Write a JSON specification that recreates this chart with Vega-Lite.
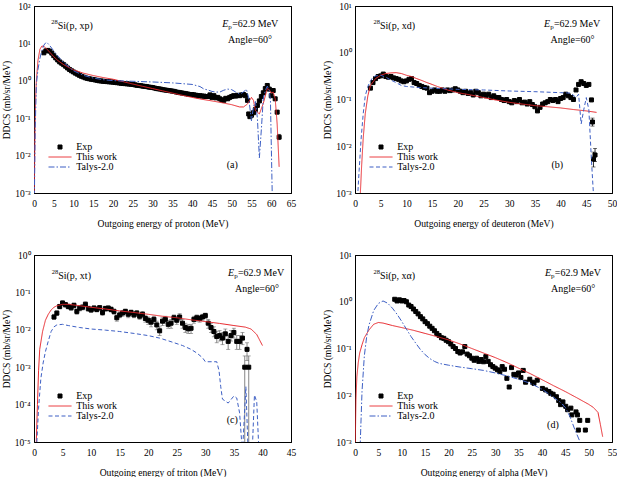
{
  "$schema": "https://vega.github.io/schema/vega-lite/v6.json",
  "background": "white",
  "padding": {"left": 0, "top": 0, "right": 2, "bottom": 1},
  "columns": 2,
  "spacing": {"row": 20, "column": 25},
  "resolve": {
    "scale": {"x": "independent", "y": "independent", "color": "independent", "shape": "independent", "strokeDash": "independent"},
    "legend": {"color": "independent", "shape": "independent", "strokeDash": "independent"}
  },
  "config": {
    "view": {"stroke": "black", "strokeWidth": 1},
    "font": "Liberation Serif",
    "axis": {
      "grid": false, "domainColor": "black", "domainWidth": 1,
      "tickColor": "black", "tickWidth": 0.8, "tickSize": 0,
      "labelFont": "Liberation Serif", "labelFontSize": 9.5, "labelColor": "black",
      "labelOverlap": false, "labelFlush": false,
      "titleFont": "Liberation Serif", "titleFontSize": 9.6, "titleFontWeight": "normal", "titleColor": "black"
    },
    "axisX": {"titlePadding": 10.5, "labelPadding": 5},
    "axisY": {"titlePadding": 3, "labelPadding": 4},
    "legend": {
      "orient": "bottom-left", "offset": 21, "padding": 0, "symbolSize": 16,
      "symbolStrokeWidth": 1, "labelOffset": 11.2, "rowPadding": 0,
      "labelFont": "Liberation Serif", "labelFontSize": 10, "labelColor": "black"
    },
    "text": {"font": "Liberation Serif", "fontSize": 10, "baseline": "middle", "color": "black"}
  },
  "datasets": {
    "a_exp": [
      {"E":2.5,"v":5.6},{"E":3.0,"v":6.3},{"E":3.5,"v":6.5},{"E":4.0,"v":6.2},{"E":4.5,"v":5.5},{"E":5.0,"v":4.7},
      {"E":5.5,"v":4.1},{"E":6.0,"v":3.6},{"E":6.5,"v":3.2},{"E":7.0,"v":2.95},{"E":7.5,"v":2.7},{"E":8.0,"v":2.45},
      {"E":8.5,"v":2.2},{"E":9.0,"v":2.0},{"E":9.5,"v":1.85},{"E":10.0,"v":1.72},{"E":10.5,"v":1.6},{"E":11.0,"v":1.5},
      {"E":11.5,"v":1.4},{"E":12.0,"v":1.32},{"E":12.5,"v":1.26},{"E":13.0,"v":1.2},{"E":13.5,"v":1.16},{"E":14.0,"v":1.13},
      {"E":14.5,"v":1.1},{"E":15.0,"v":1.08},{"E":15.5,"v":1.05},{"E":16.0,"v":1.03},{"E":16.5,"v":1.0},{"E":17.0,"v":0.99},
      {"E":17.5,"v":0.97},{"E":18.0,"v":0.96},{"E":18.5,"v":0.95},{"E":19.0,"v":0.94},{"E":19.5,"v":0.93},{"E":20.0,"v":0.92},
      {"E":20.5,"v":0.9},{"E":21.0,"v":0.89},{"E":21.5,"v":0.88},{"E":22.0,"v":0.86},{"E":22.5,"v":0.85},{"E":23.0,"v":0.84},
      {"E":23.5,"v":0.83},{"E":24.0,"v":0.82},{"E":24.5,"v":0.81},{"E":25.0,"v":0.8},{"E":25.5,"v":0.78},{"E":26.0,"v":0.76},
      {"E":26.5,"v":0.75},{"E":27.0,"v":0.74},{"E":27.5,"v":0.72},{"E":28.0,"v":0.71},{"E":28.5,"v":0.7},{"E":29.0,"v":0.68},
      {"E":29.5,"v":0.67},{"E":30.0,"v":0.66},{"E":30.5,"v":0.64},{"E":31.0,"v":0.62},{"E":31.5,"v":0.61},{"E":32.0,"v":0.6},
      {"E":32.5,"v":0.58},{"E":33.0,"v":0.57},{"E":33.5,"v":0.56},{"E":34.0,"v":0.55},{"E":34.5,"v":0.54},{"E":35.0,"v":0.53},
      {"E":35.5,"v":0.52},{"E":36.0,"v":0.5},{"E":36.5,"v":0.49},{"E":37.0,"v":0.48},{"E":37.5,"v":0.47},{"E":38.0,"v":0.46},
      {"E":38.5,"v":0.45},{"E":39.0,"v":0.44},{"E":39.5,"v":0.43},{"E":40.0,"v":0.43},{"E":40.5,"v":0.42},{"E":41.0,"v":0.41},
      {"E":41.5,"v":0.4},{"E":42.0,"v":0.4},{"E":42.5,"v":0.39},{"E":43.0,"v":0.39},{"E":43.5,"v":0.38},{"E":44.0,"v":0.38},
      {"E":44.5,"v":0.42},{"E":45.0,"v":0.36},{"E":45.5,"v":0.4},{"E":46.0,"v":0.35},{"E":46.5,"v":0.36},{"E":47.0,"v":0.33},
      {"E":47.5,"v":0.31},{"E":48.0,"v":0.3},{"E":48.5,"v":0.34},{"E":49.0,"v":0.33},{"E":49.5,"v":0.36},{"E":50.0,"v":0.38},
      {"E":50.5,"v":0.4},{"E":51.0,"v":0.39},{"E":51.5,"v":0.41},{"E":52.0,"v":0.4},{"E":52.5,"v":0.42},{"E":53.0,"v":0.43},
      {"E":53.5,"v":0.4},{"E":54.0,"v":0.3},{"E":54.3,"v":0.13},{"E":54.6,"v":0.11},{"E":55.0,"v":0.12},{"E":55.5,"v":0.14},
      {"E":56.0,"v":0.17},{"E":56.5,"v":0.22},{"E":57.0,"v":0.29},{"E":57.5,"v":0.38},{"E":58.0,"v":0.48},{"E":58.5,"v":0.62},
      {"E":59.0,"v":0.75},{"E":59.5,"v":0.6},{"E":60.0,"v":0.4},{"E":60.5,"v":0.55},{"E":61.0,"v":0.33},{"E":61.5,"v":0.145},
      {"E":62.0,"v":0.031}
    ],
    "a_err": [
      {"E":61.5,"lo":0.13,"hi":0.16},{"E":62.0,"lo":0.026,"hi":0.037}
    ],
    "a_red": [
      {"E":0.05,"v":0.0005},{"E":0.2,"v":0.02},{"E":0.4,"v":0.3},{"E":0.6,"v":1.0},{"E":1.0,"v":3.5},{"E":1.5,"v":7.0},
      {"E":2.0,"v":8.5},{"E":2.5,"v":8.3},{"E":3.0,"v":7.5},{"E":4.0,"v":5.8},{"E":5.0,"v":4.4},{"E":6.0,"v":3.5},
      {"E":7.5,"v":2.7},{"E":10,"v":1.95},{"E":12.5,"v":1.6},{"E":15,"v":1.38},{"E":17.5,"v":1.22},{"E":20,"v":1.1},
      {"E":22.5,"v":0.95},{"E":25,"v":0.82},{"E":27.5,"v":0.71},{"E":30,"v":0.62},{"E":32.5,"v":0.54},{"E":35,"v":0.47},
      {"E":37.5,"v":0.41},{"E":40,"v":0.36},{"E":42.5,"v":0.32},{"E":45,"v":0.29},{"E":47.5,"v":0.26},{"E":50,"v":0.23},
      {"E":52,"v":0.2},{"E":53,"v":0.2},{"E":54,"v":0.24},{"E":55,"v":0.36},{"E":55.5,"v":0.3},{"E":56,"v":0.16},
      {"E":57,"v":0.13},{"E":58,"v":0.25},{"E":59,"v":0.62},{"E":59.5,"v":0.58},{"E":60,"v":0.47},{"E":60.5,"v":0.5},
      {"E":61,"v":0.33},{"E":61.5,"v":0.07},{"E":62,"v":0.005}
    ],
    "a_talys": [
      {"E":0.1,"v":0.0008},{"E":0.3,"v":0.05},{"E":0.6,"v":0.8},{"E":1.0,"v":2.0},{"E":1.5,"v":4.0},{"E":2.0,"v":6.5},
      {"E":2.5,"v":9.0},{"E":3.0,"v":10.5},{"E":3.5,"v":10.0},{"E":4.0,"v":8.7},{"E":5.0,"v":6.3},{"E":6.0,"v":4.6},
      {"E":7.5,"v":3.1},{"E":10,"v":1.85},{"E":12.5,"v":1.4},{"E":15,"v":1.18},{"E":17.5,"v":1.07},{"E":20,"v":1.01},
      {"E":25,"v":0.97},{"E":30,"v":0.93},{"E":35,"v":0.88},{"E":40,"v":0.8},{"E":42,"v":0.7},{"E":43,"v":0.6},
      {"E":44,"v":0.57},{"E":45,"v":0.52},{"E":46,"v":0.5},{"E":47,"v":0.5},{"E":48,"v":0.56},{"E":49,"v":0.6},
      {"E":50,"v":0.58},{"E":51,"v":0.5},{"E":52,"v":0.44},{"E":53,"v":0.5},{"E":53.7,"v":0.6},{"E":54.3,"v":0.35},
      {"E":55,"v":0.085},{"E":55.5,"v":0.2},{"E":56,"v":0.28},{"E":56.5,"v":0.1},{"E":57,"v":0.0087},{"E":57.5,"v":0.05},
      {"E":58,"v":0.35},{"E":58.5,"v":0.55},{"E":59,"v":0.72},{"E":59.5,"v":0.55},{"E":59.8,"v":0.3},{"E":60.3,"v":0.0005}
    ],
    "a_notes": [
      {"part":"iso","E":4.36,"v":29.1,"text":"28"},
      {"part":"reac","E":4.36,"v":29.1,"text":"Si(p, xp)"},
      {"part":"E","E":61.8,"v":32.3,"text":"E"},
      {"part":"sub","E":61.8,"v":32.3,"text":"p"},
      {"part":"right","E":61.8,"v":32.3,"text":"=62.9 MeV"},
      {"part":"right","E":60.2,"v":12.0,"text":"Angle=60°"},
      {"part":"right","E":51.56,"v":0.0055,"text":"(a)"}
    ],
    "b_exp": [
      {"E":3.0,"v":0.175},{"E":3.5,"v":0.23},{"E":4.0,"v":0.28},{"E":4.5,"v":0.31},{"E":5.0,"v":0.32},{"E":5.5,"v":0.35},
      {"E":6.0,"v":0.31},{"E":6.5,"v":0.3},{"E":7.0,"v":0.31},{"E":7.5,"v":0.29},{"E":8.0,"v":0.28},{"E":8.5,"v":0.27},
      {"E":9.0,"v":0.25},{"E":9.5,"v":0.24},{"E":10.0,"v":0.25},{"E":10.5,"v":0.27},{"E":11.0,"v":0.28},{"E":11.5,"v":0.23},
      {"E":12.0,"v":0.22},{"E":12.5,"v":0.2},{"E":13.0,"v":0.19},{"E":13.5,"v":0.18},{"E":14.0,"v":0.175},{"E":14.5,"v":0.14},
      {"E":15.0,"v":0.15},{"E":15.5,"v":0.16},{"E":16.0,"v":0.15},{"E":16.5,"v":0.15},{"E":17.0,"v":0.16},{"E":17.5,"v":0.15},
      {"E":18.0,"v":0.16},{"E":18.5,"v":0.155},{"E":19.0,"v":0.16},{"E":19.5,"v":0.17},{"E":20.0,"v":0.16},{"E":20.5,"v":0.15},
      {"E":21.0,"v":0.14},{"E":21.5,"v":0.15},{"E":22.0,"v":0.135},{"E":22.5,"v":0.14},{"E":23.0,"v":0.125},{"E":23.5,"v":0.15},
      {"E":24.0,"v":0.14},{"E":24.5,"v":0.12},{"E":25.0,"v":0.13},{"E":25.5,"v":0.12},{"E":26.0,"v":0.13},{"E":26.5,"v":0.11},
      {"E":27.0,"v":0.12},{"E":27.5,"v":0.11},{"E":28.0,"v":0.11},{"E":28.5,"v":0.1},{"E":29.0,"v":0.095},{"E":29.5,"v":0.1},
      {"E":30.0,"v":0.09},{"E":30.5,"v":0.085},{"E":31.0,"v":0.095},{"E":31.5,"v":0.09},{"E":32.0,"v":0.1},{"E":32.5,"v":0.085},
      {"E":33.0,"v":0.088},{"E":33.5,"v":0.08},{"E":34.0,"v":0.09},{"E":34.5,"v":0.078},{"E":35.0,"v":0.07},{"E":35.5,"v":0.057},
      {"E":36.0,"v":0.068},{"E":36.5,"v":0.08},{"E":37.0,"v":0.085},{"E":37.5,"v":0.09},{"E":38.0,"v":0.1},{"E":38.5,"v":0.095},
      {"E":39.0,"v":0.1},{"E":39.5,"v":0.09},{"E":40.0,"v":0.105},{"E":40.5,"v":0.11},{"E":41.0,"v":0.13},{"E":41.5,"v":0.12},
      {"E":42.0,"v":0.11},{"E":42.5,"v":0.1},{"E":43.0,"v":0.16},{"E":43.5,"v":0.21},{"E":44.0,"v":0.24},{"E":44.5,"v":0.22},
      {"E":45.0,"v":0.2},{"E":45.5,"v":0.21},{"E":46.0,"v":0.098},{"E":46.2,"v":0.033},{"E":46.4,"v":0.0053},{"E":46.7,"v":0.0065}
    ],
    "b_err": [
      {"E":46.2,"lo":0.027,"hi":0.04},{"E":46.4,"lo":0.0036,"hi":0.0075},{"E":46.7,"lo":0.0047,"hi":0.009}
    ],
    "b_red": [
      {"E":1.0,"v":0.0008},{"E":1.3,"v":0.004},{"E":1.6,"v":0.015},{"E":2.0,"v":0.05},{"E":2.5,"v":0.12},{"E":3.0,"v":0.2},
      {"E":4.0,"v":0.28},{"E":5.0,"v":0.33},{"E":6.0,"v":0.36},{"E":7.0,"v":0.37},{"E":8.0,"v":0.375},{"E":9.0,"v":0.36},
      {"E":10.0,"v":0.33},{"E":11.0,"v":0.31},{"E":12.0,"v":0.28},{"E":13.0,"v":0.255},{"E":14.0,"v":0.23},{"E":15.0,"v":0.21},
      {"E":16.0,"v":0.19},{"E":17.0,"v":0.175},{"E":18.0,"v":0.16},{"E":19.0,"v":0.15},{"E":20.0,"v":0.14},{"E":22.5,"v":0.125},
      {"E":25.0,"v":0.11},{"E":27.5,"v":0.097},{"E":30.0,"v":0.087},{"E":32.5,"v":0.08},{"E":35.0,"v":0.074},{"E":37.5,"v":0.07},
      {"E":40.0,"v":0.066},{"E":42.5,"v":0.061},{"E":45.0,"v":0.057},{"E":47.0,"v":0.053}
    ],
    "b_talys": [
      {"E":0.5,"v":0.0008},{"E":0.8,"v":0.003},{"E":1.2,"v":0.015},{"E":1.6,"v":0.05},{"E":2.0,"v":0.12},{"E":2.5,"v":0.19},
      {"E":3.0,"v":0.25},{"E":3.5,"v":0.3},{"E":4.0,"v":0.32},{"E":5.0,"v":0.33},{"E":6.0,"v":0.3},{"E":7.0,"v":0.26},
      {"E":8.0,"v":0.23},{"E":9.0,"v":0.2},{"E":10.0,"v":0.19},{"E":12.5,"v":0.18},{"E":15.0,"v":0.175},{"E":20.0,"v":0.165},
      {"E":25.0,"v":0.16},{"E":30.0,"v":0.152},{"E":35.0,"v":0.147},{"E":40.0,"v":0.14},{"E":42.0,"v":0.137},{"E":43.0,"v":0.11},
      {"E":43.5,"v":0.13},{"E":44.0,"v":0.03},{"E":44.5,"v":0.06},{"E":45.0,"v":0.11},{"E":45.5,"v":0.06},{"E":46.0,"v":0.005},
      {"E":46.5,"v":0.0006}
    ],
    "b_notes": [
      {"part":"iso","E":3.6,"v":3.74,"text":"28"},
      {"part":"reac","E":3.6,"v":3.74,"text":"Si(p, xd)"},
      {"part":"E","E":47.7,"v":4.07,"text":"E"},
      {"part":"sub","E":47.7,"v":4.07,"text":"p"},
      {"part":"right","E":47.7,"v":4.07,"text":"=62.9 MeV"},
      {"part":"right","E":46.6,"v":1.85,"text":"Angle=60°"},
      {"part":"right","E":40.5,"v":0.00403,"text":"(b)"}
    ],
    "c_exp": [
      {"E":3.5,"v":0.022,"lo":0.019,"hi":0.026},{"E":4.0,"v":0.028,"lo":0.024,"hi":0.032},{"E":4.5,"v":0.042,"lo":0.036,"hi":0.048},
      {"E":5.0,"v":0.052,"lo":0.045,"hi":0.06},{"E":5.5,"v":0.047,"lo":0.04,"hi":0.054},{"E":6.0,"v":0.042,"lo":0.036,"hi":0.049},
      {"E":6.5,"v":0.039,"lo":0.033,"hi":0.046},{"E":7.0,"v":0.045,"lo":0.038,"hi":0.052},{"E":7.5,"v":0.031,"lo":0.026,"hi":0.036},
      {"E":8.0,"v":0.038,"lo":0.032,"hi":0.044},{"E":8.5,"v":0.04,"lo":0.034,"hi":0.047},{"E":9.0,"v":0.048,"lo":0.041,"hi":0.056},
      {"E":9.5,"v":0.037,"lo":0.031,"hi":0.043},{"E":10.0,"v":0.034,"lo":0.029,"hi":0.04},{"E":10.5,"v":0.038,"lo":0.032,"hi":0.044},
      {"E":11.0,"v":0.035,"lo":0.03,"hi":0.041},{"E":11.5,"v":0.039,"lo":0.033,"hi":0.045},{"E":12.0,"v":0.029,"lo":0.024,"hi":0.034},
      {"E":12.5,"v":0.037,"lo":0.031,"hi":0.043},{"E":13.0,"v":0.038,"lo":0.032,"hi":0.044},{"E":13.5,"v":0.035,"lo":0.03,"hi":0.041},
      {"E":14.0,"v":0.031,"lo":0.026,"hi":0.036},{"E":14.5,"v":0.021,"lo":0.017,"hi":0.025},{"E":15.0,"v":0.025,"lo":0.021,"hi":0.03},
      {"E":15.5,"v":0.028,"lo":0.023,"hi":0.033},{"E":16.0,"v":0.031,"lo":0.026,"hi":0.036},{"E":16.5,"v":0.026,"lo":0.021,"hi":0.031},
      {"E":17.0,"v":0.029,"lo":0.024,"hi":0.034},{"E":17.5,"v":0.025,"lo":0.021,"hi":0.03},{"E":18.0,"v":0.028,"lo":0.023,"hi":0.033},
      {"E":18.5,"v":0.023,"lo":0.019,"hi":0.028},{"E":19.0,"v":0.026,"lo":0.021,"hi":0.031},{"E":19.5,"v":0.02,"lo":0.016,"hi":0.024},
      {"E":20.0,"v":0.018,"lo":0.014,"hi":0.022},{"E":20.5,"v":0.016,"lo":0.012,"hi":0.02},{"E":21.0,"v":0.019,"lo":0.015,"hi":0.023},
      {"E":21.5,"v":0.0135,"lo":0.01,"hi":0.017},{"E":22.0,"v":0.0094,"lo":0.007,"hi":0.012},{"E":22.5,"v":0.017,"lo":0.013,"hi":0.021},
      {"E":23.0,"v":0.019,"lo":0.015,"hi":0.023},{"E":23.5,"v":0.014,"lo":0.011,"hi":0.018},{"E":24.0,"v":0.015,"lo":0.011,"hi":0.019},
      {"E":24.5,"v":0.021,"lo":0.017,"hi":0.025},{"E":25.0,"v":0.018,"lo":0.014,"hi":0.022},{"E":25.5,"v":0.022,"lo":0.018,"hi":0.027},
      {"E":26.0,"v":0.015,"lo":0.011,"hi":0.019},{"E":26.5,"v":0.0115,"lo":0.0085,"hi":0.015},{"E":27.0,"v":0.0106,"lo":0.008,"hi":0.014},
      {"E":27.5,"v":0.011,"lo":0.008,"hi":0.014},{"E":28.0,"v":0.019,"lo":0.015,"hi":0.023},{"E":28.5,"v":0.021,"lo":0.017,"hi":0.025},
      {"E":29.0,"v":0.02,"lo":0.016,"hi":0.024},{"E":29.5,"v":0.022,"lo":0.018,"hi":0.026},{"E":30.0,"v":0.024,"lo":0.02,"hi":0.028},
      {"E":30.5,"v":0.015,"lo":0.011,"hi":0.019},{"E":31.0,"v":0.0115,"lo":0.0085,"hi":0.015},{"E":31.5,"v":0.009,"lo":0.0065,"hi":0.012},
      {"E":32.0,"v":0.0066,"lo":0.0045,"hi":0.009},{"E":32.5,"v":0.007,"lo":0.005,"hi":0.0095},{"E":33.0,"v":0.006,"lo":0.004,"hi":0.0085},
      {"E":33.5,"v":0.0078,"lo":0.0055,"hi":0.0105},{"E":34.0,"v":0.0049,"lo":0.003,"hi":0.007},{"E":34.5,"v":0.007,"lo":0.005,"hi":0.0095},
      {"E":35.0,"v":0.0085,"lo":0.006,"hi":0.011},{"E":35.5,"v":0.0049,"lo":0.003,"hi":0.007},{"E":36.0,"v":0.0049,"lo":0.003,"hi":0.007},
      {"E":36.5,"v":0.006,"lo":0.004,"hi":0.0085},{"E":36.9,"v":0.001,"lo":0.000001,"hi":0.002},{"E":37.3,"v":0.003,"lo":0.0015,"hi":0.0045},
      {"E":37.6,"v":0.001,"lo":0.000001,"hi":0.002}
    ],
    "c_red": [
      {"E":0.4,"v":0.00001},{"E":0.6,"v":0.0001},{"E":0.8,"v":0.0008},{"E":1.0,"v":0.003},{"E":1.5,"v":0.009},{"E":2.0,"v":0.018},
      {"E":2.5,"v":0.026},{"E":3.0,"v":0.034},{"E":3.5,"v":0.04},{"E":4.0,"v":0.044},{"E":5.0,"v":0.048},{"E":6.0,"v":0.048},
      {"E":8.0,"v":0.044},{"E":10.0,"v":0.04},{"E":12.5,"v":0.036},{"E":15.0,"v":0.032},{"E":17.5,"v":0.029},{"E":20.0,"v":0.026},
      {"E":22.5,"v":0.023},{"E":25.0,"v":0.021},{"E":27.5,"v":0.0185},{"E":30.0,"v":0.0166},{"E":32.5,"v":0.0148},{"E":35.0,"v":0.013},
      {"E":37.0,"v":0.0118},{"E":38.0,"v":0.0105},{"E":39.0,"v":0.0075},{"E":40.0,"v":0.0038}
    ],
    "c_talys": [
      {"E":0.5,"v":0.00001},{"E":0.8,"v":0.00008},{"E":1.2,"v":0.0005},{"E":1.6,"v":0.0013},{"E":2.0,"v":0.0026},{"E":2.5,"v":0.005},
      {"E":3.0,"v":0.009},{"E":3.5,"v":0.012},{"E":4.0,"v":0.0135},{"E":5.0,"v":0.014},{"E":6.0,"v":0.013},{"E":8.0,"v":0.0115},
      {"E":10.0,"v":0.0105},{"E":12.5,"v":0.0098},{"E":15.0,"v":0.009},{"E":17.5,"v":0.008},{"E":20.0,"v":0.007},{"E":22.0,"v":0.006},
      {"E":24.0,"v":0.0048},{"E":26.0,"v":0.0038},{"E":27.5,"v":0.003},{"E":28.5,"v":0.0024},{"E":29.5,"v":0.0018},{"E":30.0,"v":0.0014},
      {"E":31.0,"v":0.0014},{"E":32.0,"v":0.0014},{"E":32.4,"v":0.0008},{"E":32.7,"v":0.0003},{"E":33.0,"v":0.00014},{"E":34.0,"v":0.00011},
      {"E":35.0,"v":0.00017},{"E":35.5,"v":0.00015},{"E":36.0,"v":0.00006},{"E":36.5,"v":0.000005},{"E":37.1,"v":0.0003},{"E":37.5,"v":0.000005},
      {"E":38.2,"v":0.000005},{"E":38.6,"v":0.00018},{"E":39.0,"v":0.00012},{"E":39.4,"v":0.000005}
    ],
    "c_notes": [
      {"part":"iso","E":3.1,"v":0.281,"text":"28"},
      {"part":"reac","E":3.1,"v":0.281,"text":"Si(p, xt)"},
      {"part":"E","E":43.8,"v":0.324,"text":"E"},
      {"part":"sub","E":43.8,"v":0.324,"text":"p"},
      {"part":"right","E":43.8,"v":0.324,"text":"=62.9 MeV"},
      {"part":"right","E":42.9,"v":0.124,"text":"Angle=60°"},
      {"part":"right","E":35.7,"v":0.0000394,"text":"(c)"}
    ],
    "d_exp": [
      {"E":8.5,"v":1.13},{"E":9.0,"v":1.04},{"E":9.5,"v":1.1},{"E":10.0,"v":1.04},{"E":10.5,"v":1.06},{"E":11.0,"v":1.0},
      {"E":11.5,"v":0.85},{"E":12.0,"v":0.79},{"E":12.5,"v":0.7},{"E":13.0,"v":0.62},{"E":13.5,"v":0.55},{"E":14.0,"v":0.48},
      {"E":14.5,"v":0.43},{"E":15.0,"v":0.375},{"E":15.5,"v":0.34},{"E":16.0,"v":0.3},{"E":16.5,"v":0.27},{"E":17.0,"v":0.24},
      {"E":17.5,"v":0.21},{"E":18.0,"v":0.19},{"E":18.5,"v":0.17},{"E":19.0,"v":0.165},{"E":19.5,"v":0.15},{"E":20.0,"v":0.14},
      {"E":20.5,"v":0.125},{"E":21.0,"v":0.11},{"E":21.5,"v":0.1},{"E":22.0,"v":0.086},{"E":22.5,"v":0.08},{"E":23.0,"v":0.085},
      {"E":23.5,"v":0.11},{"E":24.0,"v":0.076},{"E":24.5,"v":0.07},{"E":25.0,"v":0.062},{"E":25.5,"v":0.056},{"E":26.0,"v":0.062},
      {"E":26.5,"v":0.053},{"E":27.0,"v":0.058},{"E":27.5,"v":0.052},{"E":28.0,"v":0.067},{"E":28.5,"v":0.053},{"E":29.0,"v":0.045},
      {"E":29.5,"v":0.041},{"E":30.0,"v":0.038},{"E":30.5,"v":0.035},{"E":31.0,"v":0.032},{"E":31.5,"v":0.041},{"E":32.0,"v":0.036},
      {"E":32.5,"v":0.023},{"E":33.0,"v":0.015},{"E":33.5,"v":0.039},{"E":34.0,"v":0.028},{"E":34.5,"v":0.027},{"E":35.0,"v":0.03},
      {"E":35.5,"v":0.024},{"E":36.0,"v":0.034},{"E":36.5,"v":0.019},{"E":37.4,"v":0.022},{"E":38.0,"v":0.019},{"E":38.3,"v":0.018},
      {"E":39.0,"v":0.021},{"E":40.1,"v":0.014},{"E":40.8,"v":0.013},{"E":41.5,"v":0.012},{"E":41.9,"v":0.011},{"E":42.4,"v":0.0105},
      {"E":43.1,"v":0.0093},{"E":43.6,"v":0.0077},{"E":44.0,"v":0.0063},{"E":44.5,"v":0.0072},{"E":45.1,"v":0.0058},{"E":45.5,"v":0.0049},
      {"E":46.2,"v":0.0053},{"E":46.4,"v":0.0038},{"E":47.3,"v":0.0044},{"E":47.6,"v":0.0038},{"E":47.8,"v":0.0018},{"E":48.1,"v":0.0029},
      {"E":49.3,"v":0.0018},{"E":49.8,"v":0.0029}
    ],
    "d_red": [
      {"E":0.05,"v":0.0008},{"E":0.2,"v":0.008},{"E":0.4,"v":0.025},{"E":0.7,"v":0.05},{"E":1.0,"v":0.08},{"E":1.5,"v":0.12},
      {"E":2.0,"v":0.17},{"E":3.0,"v":0.25},{"E":4.0,"v":0.33},{"E":5.0,"v":0.36},{"E":6.0,"v":0.35},{"E":8.0,"v":0.31},
      {"E":10.0,"v":0.28},{"E":12.5,"v":0.245},{"E":15.0,"v":0.21},{"E":17.5,"v":0.18},{"E":20.0,"v":0.153},{"E":22.5,"v":0.125},
      {"E":25.0,"v":0.1},{"E":27.5,"v":0.08},{"E":30.0,"v":0.064},{"E":32.5,"v":0.05},{"E":35.0,"v":0.038},{"E":37.5,"v":0.029},
      {"E":40.0,"v":0.0216},{"E":42.5,"v":0.016},{"E":45.0,"v":0.012},{"E":47.5,"v":0.0088},{"E":50.0,"v":0.0064},{"E":51.0,"v":0.0055},
      {"E":52.0,"v":0.0043},{"E":52.5,"v":0.0024},{"E":53.0,"v":0.0013}
    ],
    "d_talys": [
      {"E":1.1,"v":0.0008},{"E":1.5,"v":0.012},{"E":2.0,"v":0.07},{"E":2.5,"v":0.18},{"E":3.0,"v":0.32},{"E":4.0,"v":0.65},
      {"E":5.0,"v":0.92},{"E":6.0,"v":1.04},{"E":7.0,"v":0.93},{"E":8.0,"v":0.73},{"E":9.0,"v":0.54},{"E":10.0,"v":0.38},
      {"E":11.0,"v":0.26},{"E":12.0,"v":0.18},{"E":13.0,"v":0.13},{"E":14.0,"v":0.095},{"E":15.0,"v":0.074},{"E":16.0,"v":0.061},
      {"E":17.0,"v":0.053},{"E":18.0,"v":0.048},{"E":20.0,"v":0.044},{"E":22.5,"v":0.04},{"E":25.0,"v":0.037},{"E":27.5,"v":0.034},
      {"E":30.0,"v":0.03},{"E":32.5,"v":0.026},{"E":35.0,"v":0.022},{"E":37.5,"v":0.018},{"E":40.0,"v":0.0135},{"E":42.0,"v":0.0098},
      {"E":44.0,"v":0.007},{"E":45.0,"v":0.0055},{"E":46.0,"v":0.0035},{"E":47.0,"v":0.0019},{"E":48.0,"v":0.0011},{"E":48.5,"v":0.0008}
    ],
    "d_notes": [
      {"part":"iso","E":3.94,"v":3.62,"text":"28"},
      {"part":"reac","E":3.94,"v":3.62,"text":"Si(p, xα)"},
      {"part":"E","E":52.65,"v":4.07,"text":"E"},
      {"part":"sub","E":52.65,"v":4.07,"text":"p"},
      {"part":"right","E":52.65,"v":4.07,"text":"=62.9 MeV"},
      {"part":"right","E":51.4,"v":1.88,"text":"Angle=60°"},
      {"part":"right","E":43.6,"v":0.00234,"text":"(d)"}
    ]
  },
  "concat": [
    {
      "width": 257, "height": 187,
      "resolve": {"axis": {"x": "independent", "y": "independent"}},
      "encoding": {
        "x": {"field": "E", "type": "quantitative", "scale": {"domain": [0, 65]}, "axis": null},
        "y": {"field": "v", "type": "quantitative", "scale": {"type": "log", "domain": [0.001, 100]}, "axis": null}
      },
      "layer": [
        {
          "data": {"name": "a_err"},
          "mark": {"type": "rule", "color": "black", "strokeWidth": 0.8, "clip": true},
          "encoding": {"y": {"field": "lo", "type": "quantitative", "axis": null}, "y2": {"field": "hi"}}
        },
        {
          "data": {"name": "a_err"},
          "mark": {"type": "tick", "orient": "horizontal", "color": "black", "size": 4, "thickness": 0.8, "clip": true},
          "encoding": {"y": {"field": "hi", "type": "quantitative", "axis": null}}
        },
        {
          "data": {"name": "a_exp"},
          "mark": {"type": "point", "filled": false, "fill": "black", "strokeWidth": 1, "size": 16, "opacity": 1, "clip": true},
          "encoding": {
            "x": {"field": "E", "type": "quantitative", "scale": {"domain": [0, 65]},
              "axis": {"orient": "bottom", "title": "Outgoing energy of proton (MeV)",
                "values": [0,2.5,5,7.5,10,12.5,15,17.5,20,22.5,25,27.5,30,32.5,35,37.5,40,42.5,45,47.5,50,52.5,55,57.5,60,62.5,65],
                "labelExpr": "datum.value % 5 == 0 ? toString(datum.value) : ''",
                "encode": {"ticks": {"y2": {"condition": {"test": "datum.value % 5 == 0", "value": -4.5}, "value": -3}}}}},
            "y": {"field": "v", "type": "quantitative", "scale": {"type": "log", "domain": [0.001, 100]},
              "axis": {"orient": "left", "title": "DDCS (mb/sr/MeV)",
                "values": [0.001,0.002,0.003,0.004,0.005,0.006,0.007,0.008,0.009,0.01,0.02,0.03,0.04,0.05,0.06,0.07,0.08,0.09,0.1,0.2,0.3,0.4,0.5,0.6,0.7,0.8,0.9,1,2,3,4,5,6,7,8,9,10,20,30,40,50,60,70,80,90,100],
                "labelExpr": "abs(log(datum.value)/LN10 - round(log(datum.value)/LN10)) < 0.001 ? '10' + replace(replace(replace(replace(replace(replace(replace(toString(round(log(datum.value)/LN10)), '-', '⁻'), '0', '⁰'), '1', '¹'), '2', '²'), '3', '³'), '4', '⁴'), '5', '⁵') : ''",
                "encode": {"ticks": {"x2": {"condition": {"test": "abs(log(datum.value)/LN10 - round(log(datum.value)/LN10)) < 0.001", "value": 5}, "value": 2.5}}}}},
            "color": {"datum": "Exp", "type": "nominal",
              "scale": {"domain": ["Exp", "This work", "Talys-2.0"], "range": ["black", "#e8262b", "#3d5fc4"]},
              "legend": {"title": null}},
            "shape": {"datum": "Exp", "type": "nominal",
              "scale": {"domain": ["Exp", "This work", "Talys-2.0"], "range": ["M-1,-1H1V1H-1Z", "M-5.75,0H5.75", "M-5.75,0H5.75"]},
              "legend": {"title": null}}
          }
        },
        {
          "data": {"name": "a_red"},
          "mark": {"type": "line", "strokeWidth": 1, "clip": true},
          "encoding": {
            "x": {"field": "E", "type": "quantitative", "scale": {"domain": [0, 65]},
              "axis": {"orient": "top", "labels": false, "title": null,
                "values": [0,2.5,5,7.5,10,12.5,15,17.5,20,22.5,25,27.5,30,32.5,35,37.5,40,42.5,45,47.5,50,52.5,55,57.5,60,62.5,65],
                "encode": {"ticks": {"y2": {"condition": {"test": "datum.value % 5 == 0", "value": 4.5}, "value": 3}}}}},
            "y": {"field": "v", "type": "quantitative", "scale": {"type": "log", "domain": [0.001, 100]},
              "axis": {"orient": "right", "labels": false, "title": null,
                "values": [0.001,0.002,0.003,0.004,0.005,0.006,0.007,0.008,0.009,0.01,0.02,0.03,0.04,0.05,0.06,0.07,0.08,0.09,0.1,0.2,0.3,0.4,0.5,0.6,0.7,0.8,0.9,1,2,3,4,5,6,7,8,9,10,20,30,40,50,60,70,80,90,100],
                "encode": {"ticks": {"x2": {"condition": {"test": "abs(log(datum.value)/LN10 - round(log(datum.value)/LN10)) < 0.001", "value": -5}, "value": -2.5}}}}},
            "color": {"datum": "This work", "type": "nominal"},
            "strokeDash": {"datum": "This work", "type": "nominal",
              "scale": {"domain": ["Exp", "This work", "Talys-2.0"], "range": [[1, 0], [1, 0], [6, 2, 1.5, 2]]},
              "legend": {"title": null}}
          }
        },
        {
          "data": {"name": "a_talys"},
          "mark": {"type": "line", "strokeWidth": 1, "clip": true},
          "encoding": {"color": {"datum": "Talys-2.0", "type": "nominal"}, "strokeDash": {"datum": "Talys-2.0", "type": "nominal"}}
        },
        {
          "data": {"name": "a_notes"}, "transform": [{"filter": "datum.part == 'iso'"}],
          "mark": {"type": "text", "align": "left", "fontSize": 6.5, "dy": -4},
          "encoding": {"text": {"field": "text"}}
        },
        {
          "data": {"name": "a_notes"}, "transform": [{"filter": "datum.part == 'reac'"}],
          "mark": {"type": "text", "align": "left", "dx": 6.5},
          "encoding": {"text": {"field": "text"}}
        },
        {
          "data": {"name": "a_notes"}, "transform": [{"filter": "datum.part == 'E'"}],
          "mark": {"type": "text", "align": "right", "fontStyle": "italic", "dx": -50},
          "encoding": {"text": {"field": "text"}}
        },
        {
          "data": {"name": "a_notes"}, "transform": [{"filter": "datum.part == 'sub'"}],
          "mark": {"type": "text", "align": "right", "fontSize": 7, "dx": -46.5, "dy": 3},
          "encoding": {"text": {"field": "text"}}
        },
        {
          "data": {"name": "a_notes"}, "transform": [{"filter": "datum.part == 'right'"}],
          "mark": {"type": "text", "align": "right"},
          "encoding": {"text": {"field": "text"}}
        }
      ]
    },
    {
      "width": 257, "height": 187,
      "resolve": {"axis": {"x": "independent", "y": "independent"}},
      "encoding": {
        "x": {"field": "E", "type": "quantitative", "scale": {"domain": [0, 50]}, "axis": null},
        "y": {"field": "v", "type": "quantitative", "scale": {"type": "log", "domain": [0.001, 10]}, "axis": null}
      },
      "layer": [
        {
          "data": {"name": "b_err"},
          "mark": {"type": "rule", "color": "black", "strokeWidth": 0.8, "clip": true},
          "encoding": {"y": {"field": "lo", "type": "quantitative", "axis": null}, "y2": {"field": "hi"}}
        },
        {
          "data": {"name": "b_err"},
          "mark": {"type": "tick", "orient": "horizontal", "color": "black", "size": 4, "thickness": 0.8, "clip": true},
          "encoding": {"y": {"field": "hi", "type": "quantitative", "axis": null}}
        },
        {
          "data": {"name": "b_err"},
          "mark": {"type": "tick", "orient": "horizontal", "color": "black", "size": 4, "thickness": 0.8, "clip": true},
          "encoding": {"y": {"field": "lo", "type": "quantitative", "axis": null}}
        },
        {
          "data": {"name": "b_exp"},
          "mark": {"type": "point", "filled": false, "fill": "black", "strokeWidth": 1, "size": 16, "opacity": 1, "clip": true},
          "encoding": {
            "x": {"field": "E", "type": "quantitative", "scale": {"domain": [0, 50]},
              "axis": {"orient": "bottom", "title": "Outgoing energy of deuteron (MeV)",
                "values": [0,2.5,5,7.5,10,12.5,15,17.5,20,22.5,25,27.5,30,32.5,35,37.5,40,42.5,45,47.5,50],
                "labelExpr": "datum.value % 5 == 0 ? toString(datum.value) : ''",
                "encode": {"ticks": {"y2": {"condition": {"test": "datum.value % 5 == 0", "value": -4.5}, "value": -3}}}}},
            "y": {"field": "v", "type": "quantitative", "scale": {"type": "log", "domain": [0.001, 10]},
              "axis": {"orient": "left", "title": "DDCS (mb/sr/MeV)",
                "values": [0.001,0.002,0.003,0.004,0.005,0.006,0.007,0.008,0.009,0.01,0.02,0.03,0.04,0.05,0.06,0.07,0.08,0.09,0.1,0.2,0.3,0.4,0.5,0.6,0.7,0.8,0.9,1,2,3,4,5,6,7,8,9,10],
                "labelExpr": "abs(log(datum.value)/LN10 - round(log(datum.value)/LN10)) < 0.001 ? '10' + replace(replace(replace(replace(replace(replace(replace(toString(round(log(datum.value)/LN10)), '-', '⁻'), '0', '⁰'), '1', '¹'), '2', '²'), '3', '³'), '4', '⁴'), '5', '⁵') : ''",
                "encode": {"ticks": {"x2": {"condition": {"test": "abs(log(datum.value)/LN10 - round(log(datum.value)/LN10)) < 0.001", "value": 5}, "value": 2.5}}}}},
            "color": {"datum": "Exp", "type": "nominal",
              "scale": {"domain": ["Exp", "This work", "Talys-2.0"], "range": ["black", "#e8262b", "#3d5fc4"]},
              "legend": {"title": null}},
            "shape": {"datum": "Exp", "type": "nominal",
              "scale": {"domain": ["Exp", "This work", "Talys-2.0"], "range": ["M-1,-1H1V1H-1Z", "M-5.75,0H5.75", "M-5.75,0H5.75"]},
              "legend": {"title": null}}
          }
        },
        {
          "data": {"name": "b_red"},
          "mark": {"type": "line", "strokeWidth": 1, "clip": true},
          "encoding": {
            "x": {"field": "E", "type": "quantitative", "scale": {"domain": [0, 50]},
              "axis": {"orient": "top", "labels": false, "title": null,
                "values": [0,2.5,5,7.5,10,12.5,15,17.5,20,22.5,25,27.5,30,32.5,35,37.5,40,42.5,45,47.5,50],
                "encode": {"ticks": {"y2": {"condition": {"test": "datum.value % 5 == 0", "value": 4.5}, "value": 3}}}}},
            "y": {"field": "v", "type": "quantitative", "scale": {"type": "log", "domain": [0.001, 10]},
              "axis": {"orient": "right", "labels": false, "title": null,
                "values": [0.001,0.002,0.003,0.004,0.005,0.006,0.007,0.008,0.009,0.01,0.02,0.03,0.04,0.05,0.06,0.07,0.08,0.09,0.1,0.2,0.3,0.4,0.5,0.6,0.7,0.8,0.9,1,2,3,4,5,6,7,8,9,10],
                "encode": {"ticks": {"x2": {"condition": {"test": "abs(log(datum.value)/LN10 - round(log(datum.value)/LN10)) < 0.001", "value": -5}, "value": -2.5}}}}},
            "color": {"datum": "This work", "type": "nominal"},
            "strokeDash": {"datum": "This work", "type": "nominal",
              "scale": {"domain": ["Exp", "This work", "Talys-2.0"], "range": [[1, 0], [1, 0], [4, 2.5]]},
              "legend": {"title": null}}
          }
        },
        {
          "data": {"name": "b_talys"},
          "mark": {"type": "line", "strokeWidth": 1, "clip": true},
          "encoding": {"color": {"datum": "Talys-2.0", "type": "nominal"}, "strokeDash": {"datum": "Talys-2.0", "type": "nominal"}}
        },
        {
          "data": {"name": "b_notes"}, "transform": [{"filter": "datum.part == 'iso'"}],
          "mark": {"type": "text", "align": "left", "fontSize": 6.5, "dy": -4},
          "encoding": {"text": {"field": "text"}}
        },
        {
          "data": {"name": "b_notes"}, "transform": [{"filter": "datum.part == 'reac'"}],
          "mark": {"type": "text", "align": "left", "dx": 6.5},
          "encoding": {"text": {"field": "text"}}
        },
        {
          "data": {"name": "b_notes"}, "transform": [{"filter": "datum.part == 'E'"}],
          "mark": {"type": "text", "align": "right", "fontStyle": "italic", "dx": -50},
          "encoding": {"text": {"field": "text"}}
        },
        {
          "data": {"name": "b_notes"}, "transform": [{"filter": "datum.part == 'sub'"}],
          "mark": {"type": "text", "align": "right", "fontSize": 7, "dx": -46.5, "dy": 3},
          "encoding": {"text": {"field": "text"}}
        },
        {
          "data": {"name": "b_notes"}, "transform": [{"filter": "datum.part == 'right'"}],
          "mark": {"type": "text", "align": "right"},
          "encoding": {"text": {"field": "text"}}
        }
      ]
    },
    {
      "width": 257, "height": 187,
      "resolve": {"axis": {"x": "independent", "y": "independent"}},
      "encoding": {
        "x": {"field": "E", "type": "quantitative", "scale": {"domain": [0, 45]}, "axis": null},
        "y": {"field": "v", "type": "quantitative", "scale": {"type": "log", "domain": [0.00001, 1]}, "axis": null}
      },
      "layer": [
        {
          "data": {"name": "c_exp"},
          "mark": {"type": "rule", "color": "#666666", "strokeWidth": 0.8, "clip": true},
          "encoding": {"y": {"field": "lo", "type": "quantitative", "axis": null}, "y2": {"field": "hi"}}
        },
        {
          "data": {"name": "c_exp"},
          "mark": {"type": "tick", "orient": "horizontal", "color": "#666666", "size": 4, "thickness": 0.8, "clip": true},
          "encoding": {"y": {"field": "hi", "type": "quantitative", "axis": null}}
        },
        {
          "data": {"name": "c_exp"},
          "mark": {"type": "tick", "orient": "horizontal", "color": "#666666", "size": 4, "thickness": 0.8, "clip": true},
          "encoding": {"y": {"field": "lo", "type": "quantitative", "axis": null}}
        },
        {
          "data": {"name": "c_exp"},
          "mark": {"type": "point", "filled": false, "fill": "black", "strokeWidth": 1, "size": 16, "opacity": 1, "clip": true},
          "encoding": {
            "x": {"field": "E", "type": "quantitative", "scale": {"domain": [0, 45]},
              "axis": {"orient": "bottom", "title": "Outgoing energy of triton (MeV)",
                "values": [0,2.5,5,7.5,10,12.5,15,17.5,20,22.5,25,27.5,30,32.5,35,37.5,40,42.5,45],
                "labelExpr": "datum.value % 5 == 0 ? toString(datum.value) : ''",
                "encode": {"ticks": {"y2": {"condition": {"test": "datum.value % 5 == 0", "value": -4.5}, "value": -3}}}}},
            "y": {"field": "v", "type": "quantitative", "scale": {"type": "log", "domain": [0.00001, 1]},
              "axis": {"orient": "left", "title": "DDCS (mb/sr/MeV)",
                "values": [0.00001,0.00002,0.00003,0.00004,0.00005,0.00006,0.00007,0.00008,0.00009,0.0001,0.0002,0.0003,0.0004,0.0005,0.0006,0.0007,0.0008,0.0009,0.001,0.002,0.003,0.004,0.005,0.006,0.007,0.008,0.009,0.01,0.02,0.03,0.04,0.05,0.06,0.07,0.08,0.09,0.1,0.2,0.3,0.4,0.5,0.6,0.7,0.8,0.9,1],
                "labelExpr": "abs(log(datum.value)/LN10 - round(log(datum.value)/LN10)) < 0.001 ? '10' + replace(replace(replace(replace(replace(replace(replace(toString(round(log(datum.value)/LN10)), '-', '⁻'), '0', '⁰'), '1', '¹'), '2', '²'), '3', '³'), '4', '⁴'), '5', '⁵') : ''",
                "encode": {"ticks": {"x2": {"condition": {"test": "abs(log(datum.value)/LN10 - round(log(datum.value)/LN10)) < 0.001", "value": 5}, "value": 2.5}}}}},
            "color": {"datum": "Exp", "type": "nominal",
              "scale": {"domain": ["Exp", "This work", "Talys-2.0"], "range": ["black", "#e8262b", "#3d5fc4"]},
              "legend": {"title": null}},
            "shape": {"datum": "Exp", "type": "nominal",
              "scale": {"domain": ["Exp", "This work", "Talys-2.0"], "range": ["M-1,-1H1V1H-1Z", "M-5.75,0H5.75", "M-5.75,0H5.75"]},
              "legend": {"title": null}}
          }
        },
        {
          "data": {"name": "c_red"},
          "mark": {"type": "line", "strokeWidth": 1, "clip": true},
          "encoding": {
            "x": {"field": "E", "type": "quantitative", "scale": {"domain": [0, 45]},
              "axis": {"orient": "top", "labels": false, "title": null,
                "values": [0,2.5,5,7.5,10,12.5,15,17.5,20,22.5,25,27.5,30,32.5,35,37.5,40,42.5,45],
                "encode": {"ticks": {"y2": {"condition": {"test": "datum.value % 5 == 0", "value": 4.5}, "value": 3}}}}},
            "y": {"field": "v", "type": "quantitative", "scale": {"type": "log", "domain": [0.00001, 1]},
              "axis": {"orient": "right", "labels": false, "title": null,
                "values": [0.00001,0.00002,0.00003,0.00004,0.00005,0.00006,0.00007,0.00008,0.00009,0.0001,0.0002,0.0003,0.0004,0.0005,0.0006,0.0007,0.0008,0.0009,0.001,0.002,0.003,0.004,0.005,0.006,0.007,0.008,0.009,0.01,0.02,0.03,0.04,0.05,0.06,0.07,0.08,0.09,0.1,0.2,0.3,0.4,0.5,0.6,0.7,0.8,0.9,1],
                "encode": {"ticks": {"x2": {"condition": {"test": "abs(log(datum.value)/LN10 - round(log(datum.value)/LN10)) < 0.001", "value": -5}, "value": -2.5}}}}},
            "color": {"datum": "This work", "type": "nominal"},
            "strokeDash": {"datum": "This work", "type": "nominal",
              "scale": {"domain": ["Exp", "This work", "Talys-2.0"], "range": [[1, 0], [1, 0], [4, 2.5]]},
              "legend": {"title": null}}
          }
        },
        {
          "data": {"name": "c_talys"},
          "mark": {"type": "line", "strokeWidth": 1, "clip": true},
          "encoding": {"color": {"datum": "Talys-2.0", "type": "nominal"}, "strokeDash": {"datum": "Talys-2.0", "type": "nominal"}}
        },
        {
          "data": {"name": "c_notes"}, "transform": [{"filter": "datum.part == 'iso'"}],
          "mark": {"type": "text", "align": "left", "fontSize": 6.5, "dy": -4},
          "encoding": {"text": {"field": "text"}}
        },
        {
          "data": {"name": "c_notes"}, "transform": [{"filter": "datum.part == 'reac'"}],
          "mark": {"type": "text", "align": "left", "dx": 6.5},
          "encoding": {"text": {"field": "text"}}
        },
        {
          "data": {"name": "c_notes"}, "transform": [{"filter": "datum.part == 'E'"}],
          "mark": {"type": "text", "align": "right", "fontStyle": "italic", "dx": -50},
          "encoding": {"text": {"field": "text"}}
        },
        {
          "data": {"name": "c_notes"}, "transform": [{"filter": "datum.part == 'sub'"}],
          "mark": {"type": "text", "align": "right", "fontSize": 7, "dx": -46.5, "dy": 3},
          "encoding": {"text": {"field": "text"}}
        },
        {
          "data": {"name": "c_notes"}, "transform": [{"filter": "datum.part == 'right'"}],
          "mark": {"type": "text", "align": "right"},
          "encoding": {"text": {"field": "text"}}
        }
      ]
    },
    {
      "width": 257, "height": 187,
      "resolve": {"axis": {"x": "independent", "y": "independent"}},
      "encoding": {
        "x": {"field": "E", "type": "quantitative", "scale": {"domain": [0, 55]}, "axis": null},
        "y": {"field": "v", "type": "quantitative", "scale": {"type": "log", "domain": [0.001, 10]}, "axis": null}
      },
      "layer": [
        {
          "data": {"name": "d_exp"},
          "mark": {"type": "point", "filled": false, "fill": "black", "strokeWidth": 1, "size": 16, "opacity": 1, "clip": true},
          "encoding": {
            "x": {"field": "E", "type": "quantitative", "scale": {"domain": [0, 55]},
              "axis": {"orient": "bottom", "title": "Outgoing energy of alpha (MeV)",
                "values": [0,2.5,5,7.5,10,12.5,15,17.5,20,22.5,25,27.5,30,32.5,35,37.5,40,42.5,45,47.5,50,52.5,55],
                "labelExpr": "datum.value % 5 == 0 ? toString(datum.value) : ''",
                "encode": {"ticks": {"y2": {"condition": {"test": "datum.value % 5 == 0", "value": -4.5}, "value": -3}}}}},
            "y": {"field": "v", "type": "quantitative", "scale": {"type": "log", "domain": [0.001, 10]},
              "axis": {"orient": "left", "title": "DDCS (mb/sr/MeV)",
                "values": [0.001,0.002,0.003,0.004,0.005,0.006,0.007,0.008,0.009,0.01,0.02,0.03,0.04,0.05,0.06,0.07,0.08,0.09,0.1,0.2,0.3,0.4,0.5,0.6,0.7,0.8,0.9,1,2,3,4,5,6,7,8,9,10],
                "labelExpr": "abs(log(datum.value)/LN10 - round(log(datum.value)/LN10)) < 0.001 ? '10' + replace(replace(replace(replace(replace(replace(replace(toString(round(log(datum.value)/LN10)), '-', '⁻'), '0', '⁰'), '1', '¹'), '2', '²'), '3', '³'), '4', '⁴'), '5', '⁵') : ''",
                "encode": {"ticks": {"x2": {"condition": {"test": "abs(log(datum.value)/LN10 - round(log(datum.value)/LN10)) < 0.001", "value": 5}, "value": 2.5}}}}},
            "color": {"datum": "Exp", "type": "nominal",
              "scale": {"domain": ["Exp", "This work", "Talys-2.0"], "range": ["black", "#e8262b", "#3d5fc4"]},
              "legend": {"title": null}},
            "shape": {"datum": "Exp", "type": "nominal",
              "scale": {"domain": ["Exp", "This work", "Talys-2.0"], "range": ["M-1,-1H1V1H-1Z", "M-5.75,0H5.75", "M-5.75,0H5.75"]},
              "legend": {"title": null}}
          }
        },
        {
          "data": {"name": "d_red"},
          "mark": {"type": "line", "strokeWidth": 1, "clip": true},
          "encoding": {
            "x": {"field": "E", "type": "quantitative", "scale": {"domain": [0, 55]},
              "axis": {"orient": "top", "labels": false, "title": null,
                "values": [0,2.5,5,7.5,10,12.5,15,17.5,20,22.5,25,27.5,30,32.5,35,37.5,40,42.5,45,47.5,50,52.5,55],
                "encode": {"ticks": {"y2": {"condition": {"test": "datum.value % 5 == 0", "value": 4.5}, "value": 3}}}}},
            "y": {"field": "v", "type": "quantitative", "scale": {"type": "log", "domain": [0.001, 10]},
              "axis": {"orient": "right", "labels": false, "title": null,
                "values": [0.001,0.002,0.003,0.004,0.005,0.006,0.007,0.008,0.009,0.01,0.02,0.03,0.04,0.05,0.06,0.07,0.08,0.09,0.1,0.2,0.3,0.4,0.5,0.6,0.7,0.8,0.9,1,2,3,4,5,6,7,8,9,10],
                "encode": {"ticks": {"x2": {"condition": {"test": "abs(log(datum.value)/LN10 - round(log(datum.value)/LN10)) < 0.001", "value": -5}, "value": -2.5}}}}},
            "color": {"datum": "This work", "type": "nominal"},
            "strokeDash": {"datum": "This work", "type": "nominal",
              "scale": {"domain": ["Exp", "This work", "Talys-2.0"], "range": [[1, 0], [1, 0], [6, 2, 1.5, 2]]},
              "legend": {"title": null}}
          }
        },
        {
          "data": {"name": "d_talys"},
          "mark": {"type": "line", "strokeWidth": 1, "clip": true},
          "encoding": {"color": {"datum": "Talys-2.0", "type": "nominal"}, "strokeDash": {"datum": "Talys-2.0", "type": "nominal"}}
        },
        {
          "data": {"name": "d_notes"}, "transform": [{"filter": "datum.part == 'iso'"}],
          "mark": {"type": "text", "align": "left", "fontSize": 6.5, "dy": -4},
          "encoding": {"text": {"field": "text"}}
        },
        {
          "data": {"name": "d_notes"}, "transform": [{"filter": "datum.part == 'reac'"}],
          "mark": {"type": "text", "align": "left", "dx": 6.5},
          "encoding": {"text": {"field": "text"}}
        },
        {
          "data": {"name": "d_notes"}, "transform": [{"filter": "datum.part == 'E'"}],
          "mark": {"type": "text", "align": "right", "fontStyle": "italic", "dx": -50},
          "encoding": {"text": {"field": "text"}}
        },
        {
          "data": {"name": "d_notes"}, "transform": [{"filter": "datum.part == 'sub'"}],
          "mark": {"type": "text", "align": "right", "fontSize": 7, "dx": -46.5, "dy": 3},
          "encoding": {"text": {"field": "text"}}
        },
        {
          "data": {"name": "d_notes"}, "transform": [{"filter": "datum.part == 'right'"}],
          "mark": {"type": "text", "align": "right"},
          "encoding": {"text": {"field": "text"}}
        }
      ]
    }
  ]
}
